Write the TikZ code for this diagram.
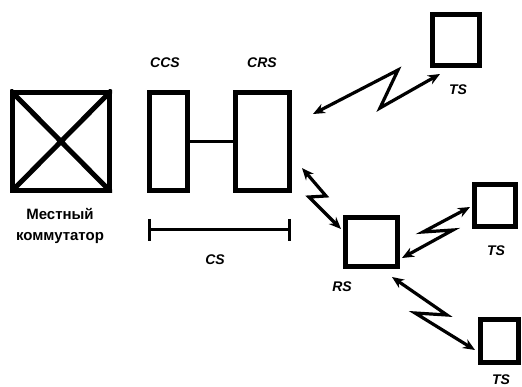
\documentclass[tikz,border=0pt]{standalone}
\usepackage{fontspec}
\setmainfont{Liberation Sans}
\usetikzlibrary{arrows.meta,calc}
\begin{document}
\begin{tikzpicture}[x=1pt,y=-1pt,
  box/.style={draw,line width=5pt,inner sep=0pt,minimum width=#1},
  lbl/.style={font=\fontsize{14}{16}\selectfont\bfseries\itshape,inner sep=0pt},
  ru/.style={font=\fontsize{15}{17}\selectfont\bfseries,inner sep=0pt},
  link/.style={line width=3.2pt,{Stealth[length=12pt,width=10pt]}-{Stealth[length=12pt,width=10pt]},line join=miter}]
\useasboundingbox (0,0) rectangle (522,387);
% boxes
\node[box=97pt,minimum height=98pt] (le) at (61,141.5) {};
\begin{scope}
\clip (le.north west) rectangle (le.south east);
\draw[line width=5pt] (le.north west) -- (le.south east) (le.north east) -- (le.south west);
\end{scope}
\node[box=38pt,minimum height=98pt] (ccs) at (168.5,141.5) {};
\node[box=54pt,minimum height=98pt] (crs) at (262.5,141.5) {};
\draw[line width=3.2pt] (ccs.east) -- (crs.west);
\node[box=47pt,minimum height=51pt] (ts1) at (456,40) {};
\node[box=52pt,minimum height=49pt] (rs) at (371.5,242) {};
\node[box=41pt,minimum height=42pt] (ts2) at (495,205.5) {};
\node[box=38pt,minimum height=43pt] (ts3) at (499.5,341) {};
% labels
\node[lbl] (lccs) at (165,63) {CCS};
\node[lbl] (lcrs) at (262,63) {CRS};
\node[ru] (m1) at (60,214) {Местный};
\node[ru] (m2) at (60,238) {коммутатор};
\node[lbl] (lcs) at (215,260) {CS};
\node[lbl] (lts1) at (458,90) {TS};
\node[lbl] (lrs) at (342,287) {RS};
\node[lbl] (lts2) at (496,251) {TS};
\node[lbl] (lts3) at (501,380) {TS};
% CS bar
\coordinate (csl) at (149,230);
\coordinate (csr) at (289,230);
\draw[line width=3pt] (csl) -- (csr);
\draw[line width=3pt] ($(csl)+(0,-11)$) -- ($(csl)+(0,11)$);
\draw[line width=3pt] ($(csr)+(0,-11)$) -- ($(csr)+(0,11)$);
% radio links
\coordinate (a1) at (313,114);
\coordinate (a2) at (398,70);
\coordinate (a3) at (380,108);
\coordinate (a4) at (440,74);
\draw[link] (a1) -- (a2) -- (a3) -- (a4);
\coordinate (b1) at (302,168);
\coordinate (b2) at (326,196);
\coordinate (b3) at (309,197);
\coordinate (b4) at (341,229);
\draw[link] (b1) -- (b2) -- (b3) -- (b4);
\coordinate (c1) at (402,258);
\coordinate (c2) at (453,230);
\coordinate (c3) at (423,232);
\coordinate (c4) at (470,207);
\draw[link] (c1) -- (c2) -- (c3) -- (c4);
\coordinate (d1) at (392,277);
\coordinate (d2) at (447,315);
\coordinate (d3) at (415,313);
\coordinate (d4) at (475,350);
\draw[link] (d1) -- (d2) -- (d3) -- (d4);
\end{tikzpicture}
\end{document}
